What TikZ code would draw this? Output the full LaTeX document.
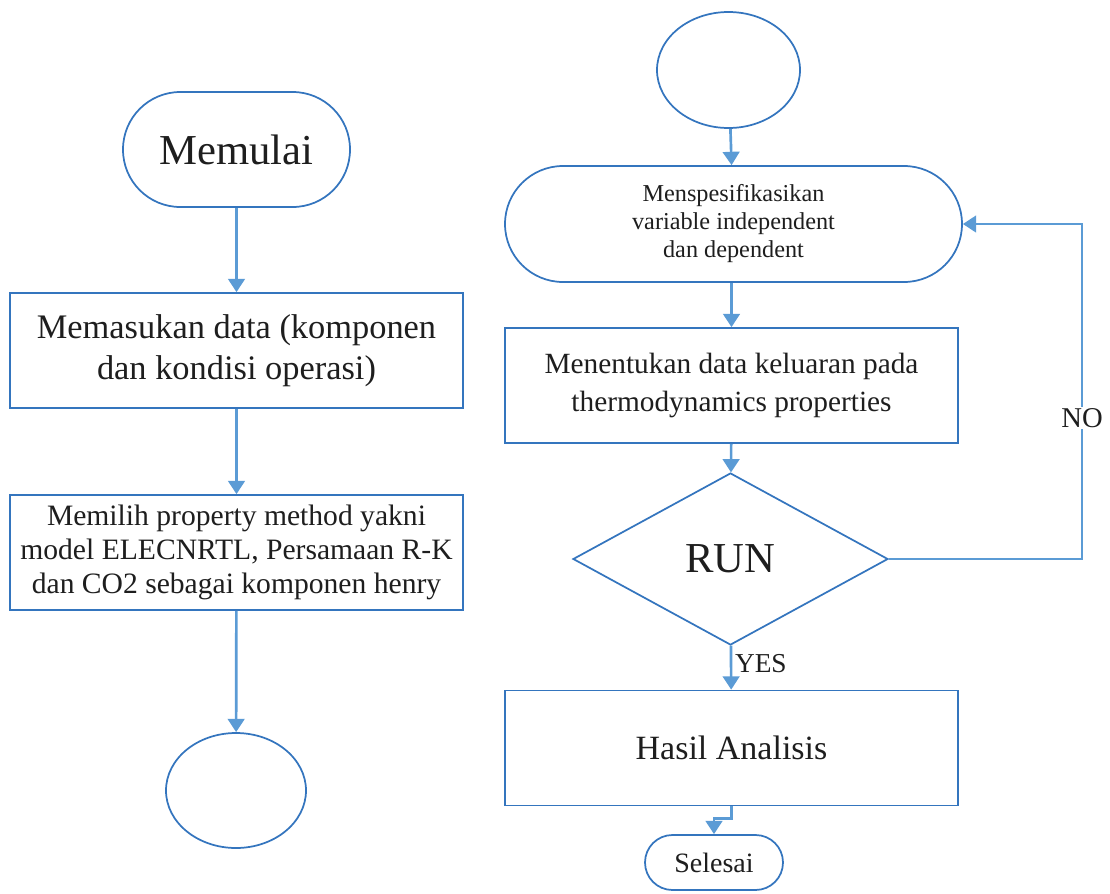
\documentclass[tikz,border=0pt]{standalone}
\usepackage{fontspec}
\setmainfont{Liberation Serif}
\usetikzlibrary{shapes.geometric,arrows.meta}
\definecolor{shp}{RGB}{52,117,190}
\definecolor{arr}{RGB}{91,155,213}
\definecolor{txt}{RGB}{30,30,30}
\tikzset{
  base/.style={draw=shp, line width=1.3pt, text=txt, align=center, inner sep=0pt, fill=white},
  boxn/.style={base, rectangle, minimum width=339.75pt, minimum height=86.25pt},
  stad/.style={base, rectangle},
  oval/.style={base, ellipse},
  dia/.style={base, diamond, minimum width=236.25pt, minimum height=129pt},
  conn/.style={draw=arr, line width=2pt, -{Triangle[width=12.5pt,length=10pt]}},
  lbl/.style={text=txt, inner sep=2pt}
}
\begin{document}
\begin{tikzpicture}[x=0.75pt,y=-0.75pt]
\useasboundingbox (0,0) rectangle (1110,893);
% left column
\node[stad, minimum width=170.25pt, minimum height=86.25pt, rounded corners=43pt, font=\fontsize{32}{36}\selectfont] (start) at (236.5,149.5) {Memulai};
\node[boxn, font=\fontsize{25.8}{31}\selectfont] (data) at (236.5,350.5) {Memasukan data (komponen\\dan kondisi operasi)};
\node[boxn, font=\fontsize{22.2}{25.5}\selectfont] (prop) at (236.5,552.5) {Memilih property method yakni\\model ELECNRTL, Persamaan R-K\\dan CO2 sebagai komponen henry};
\node[oval, minimum width=105pt, minimum height=86.25pt] (endL) at (236,790.5) {};
% right column
\node[oval, minimum width=107.25pt, minimum height=87pt] (topR) at (728.5,70) {};
\node[stad, minimum width=342.75pt, minimum height=87pt, rounded corners=43.5pt, font=\fontsize{18.2}{21}\selectfont] (spec) at (733.5,224) {Menspesifikasikan\\variable independent\\dan dependent};
\node[boxn, font=\fontsize{22}{28}\selectfont] (outp) at (731.5,385.5) {Menentukan data keluaran pada\\thermodynamics properties};
\node[dia, font=\fontsize{32}{36}\selectfont] (run) at (730.5,559) {RUN};
\node[boxn, font=\fontsize{25.5}{30}\selectfont] (hasil) at (731.5,748) {Hasil Analisis};
\node[stad, minimum width=103.5pt, minimum height=41.25pt, rounded corners=20.6pt, font=\fontsize{21}{24}\selectfont] (sel) at (714,862.5) {Selesai};
\coordinate (loop) at (1082,224);
% connectors
\draw[conn] (start) -- (data);
\draw[conn] (data) -- (prop);
\draw[conn] (prop) -- (endL);
\draw[conn] (topR) -- (spec);
\draw[conn] (spec.south -| outp) -- (outp);
\draw[conn] (outp) -- (run);
\draw[conn] (run) -- node[lbl, right, pos=0.4, font=\fontsize{20.5}{24}\selectfont] {YES} (hasil);
\draw[conn] (hasil.south) -- ++(0,12) -| (sel.north);
\draw[conn] (run.east) -| node[lbl, fill=white, pos=0.71, inner sep=1pt, font=\fontsize{21.5}{24}\selectfont] {NO} (loop) -- (spec.east);
\end{tikzpicture}
\end{document}
